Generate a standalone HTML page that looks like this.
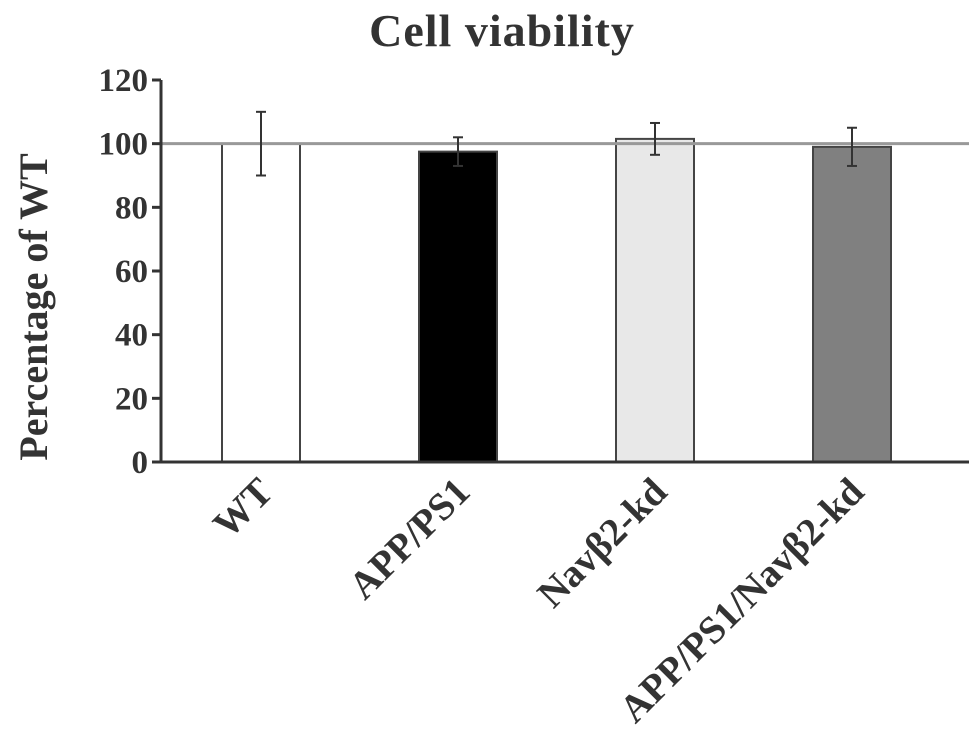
<!DOCTYPE html>
<html><head><meta charset="utf-8"><style>
body{margin:0;background:#fff;}
svg{display:block;font-family:"Liberation Serif",serif;font-weight:bold;}
</style></head><body>
<svg id="chart" width="969" height="741">
<text x="502" y="46" text-anchor="middle" font-size="46" letter-spacing="1" fill="#333">Cell viability</text>
<text transform="translate(47,307) rotate(-90)" text-anchor="middle" font-size="40" fill="#333">Percentage of WT</text>
<g id="bars"></g>
<g id="axes"></g>
</svg>
<script>
const categories=["WT","APP/PS1","Navβ2-kd","APP/PS1/Navβ2-kd"];
const values=[100,97.5,101.5,99];
const errors=[10,4.5,5,6];
const fills=["#ffffff","#000000","#e8e8e8","#808080"];
const yTicks=[0,20,40,60,80,100,120];
const refValue=100;
const ns="http://www.w3.org/2000/svg";
const y0=462,yPer=(462-80)/120;
const y=v=>y0-v*yPer;
const xLeft=161,xRight=969,band=197,barW=78,firstCenter=261;
const xc=i=>firstCenter+i*band;
function mk(tag,attrs,parent){const e=document.createElementNS(ns,tag);for(const k in attrs)e.setAttribute(k,attrs[k]);parent.appendChild(e);return e;}
const bars=document.getElementById('bars'),axes=document.getElementById('axes');
categories.forEach((c,i)=>{
 const r=mk('rect',{x:xc(i)-barW/2,y:y(values[i]),width:barW,height:y0-y(values[i]),fill:fills[i],stroke:"#444","stroke-width":2},bars);
 
 
});
const ref=mk('line',{x1:xLeft,x2:xRight,y1:y(refValue),y2:y(refValue),stroke:"#999","stroke-width":3},bars);


categories.forEach((c,i)=>{
 const g=mk('g',{stroke:"#333","stroke-width":2},bars);
 
 
 const t=y(values[i]+errors[i]),b=y(values[i]-errors[i]);
 mk('line',{x1:xc(i),x2:xc(i),y1:t,y2:b},g);
 mk('line',{x1:xc(i)-5,x2:xc(i)+5,y1:t,y2:t},g);
 mk('line',{x1:xc(i)-5,x2:xc(i)+5,y1:b,y2:b},g);
 const tx=mk('text',{transform:`translate(${xc(i)+14},${y0+32}) rotate(-45)`,"text-anchor":"end","font-size":39,fill:"#333",stroke:"none"},axes);
 tx.textContent=c;
 
 
});
const ya=mk('line',{x1:xLeft,x2:xLeft,y1:y(120),y2:y0,stroke:"#333","stroke-width":3},axes);


const xa=mk('line',{x1:xLeft,x2:xRight,y1:y0,y2:y0,stroke:"#333","stroke-width":3},axes);


yTicks.forEach(v=>{
 mk('line',{x1:xLeft-9,x2:xLeft,y1:y(v),y2:y(v),stroke:"#333","stroke-width":3},axes);
 const t=mk('text',{x:xLeft-13,y:y(v)+11,"text-anchor":"end","font-size":33,fill:"#333"},axes);
 t.textContent=v;
 
 
});
</script>
</body></html>
